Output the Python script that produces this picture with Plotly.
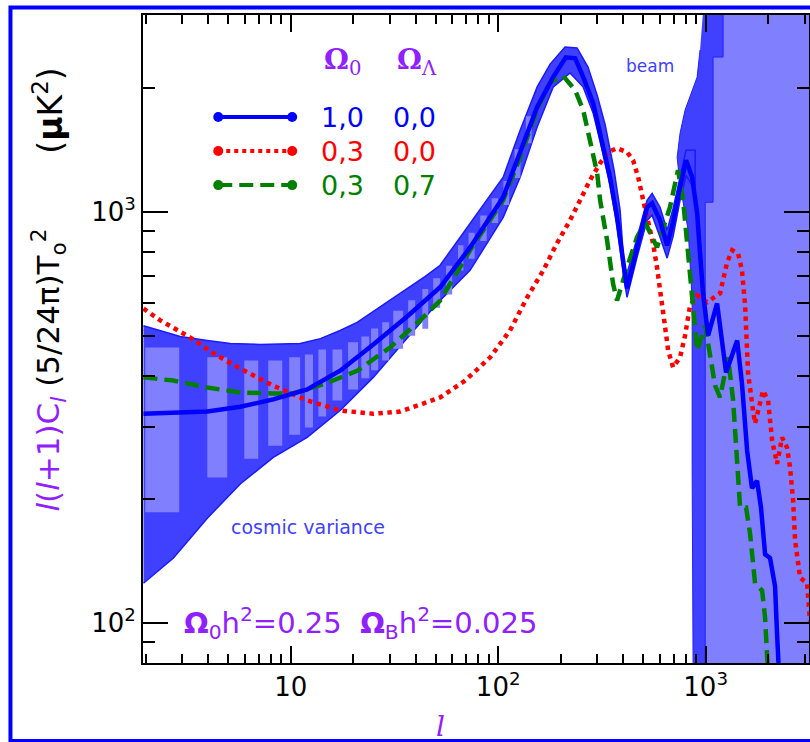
import plotly.graph_objects as go
import math

# ---------------- data ----------------
blue_l = [1.95, 2.775, 3.96, 5.71, 8.24, 12.0, 17.3, 25.0, 36.4, 52.5, 73.2, 105.7, 127.6, 154, 184, 212, 235, 257,
          287, 310, 346, 374, 400, 418, 467, 522, 552, 603, 652, 697, 753, 805, 861, 910, 940, 972, 1028, 1136,
          1255, 1419, 1497, 1585, 1673, 1770, 1849, 1935, 2044, 2161, 2210, 2259]
blue_v = [323, 325, 327, 336, 350, 370, 411, 476, 557, 656, 820, 1086, 1390, 1799, 2128, 2378, 2365, 2128,
          1838, 1555, 1215, 970, 749, 652, 820, 1027, 1050, 954, 829, 944, 1149, 1336, 1215, 993, 793, 634, 501, 599,
          407, 487, 382, 263, 213, 222, 191, 147, 144, 123, 94, 75]

red_l = [1.95, 2.35, 3.28, 4.33, 5.71, 8.24, 12.0, 17.3, 25.0, 33.7, 43.5, 52.5, 69.3, 91.5, 114, 138, 165, 192,
         222, 248, 277, 310, 339, 374, 418, 447, 473, 500, 528, 558, 583, 603, 638, 660, 697, 753, 796, 842, 910,
         1016, 1174, 1269, 1342, 1434, 1497, 1550, 1585, 1602, 1693, 1731, 1892, 2000, 2092, 2210, 2336, 2470,
         2553, 2640, 2699, 2853, 3084, 3184]
red_v = [582, 545, 495, 450, 416, 378, 348, 329, 323, 327, 342, 354, 389, 443, 515, 620, 721, 839,
         954, 1068, 1194, 1314, 1398, 1429, 1398, 1336, 1215, 1068, 954, 839, 733, 634, 524, 460, 419, 443, 501, 593,
         627, 603, 634, 754, 807, 793, 721, 593, 487, 405, 329, 306, 368, 348, 278, 244, 283, 267,
         239, 199, 159, 129, 125, 101]

green_l = [1.95, 2.715, 3.96, 5.71, 8.24, 10.3, 15.0, 20.9, 30.1, 43.5, 52.5, 73.2, 105.7, 127.6, 154, 178, 206,
           235, 257, 277, 300, 310, 335, 358, 374, 418, 467, 511, 583, 673, 736, 779, 814, 842, 871, 910, 995,
           1111, 1174, 1283, 1357, 1419, 1466, 1567, 1638, 1731, 1872, 1935, 2000]
green_v = [396, 389, 374, 364, 362, 362, 384, 411, 468, 554, 609, 807, 1068, 1359, 1769, 2068, 2140,
           1978, 1769, 1494, 1243, 1068, 853, 669, 609, 733, 868, 944, 820, 1027, 1264, 1068, 829, 682, 560, 460, 529,
           378, 354, 443, 348, 239, 191, 191, 165, 125, 120, 103, 75]

# cosmic-variance band edges
band_up_l = [1.95, 2.35, 2.93, 3.96, 5.11, 7.13, 11.1, 13.9, 17.3, 20.9, 25.0, 30.1, 36.4, 44.5, 52.5, 73.2, 105.7,
             127.6, 154, 178, 210, 240, 271, 300, 328, 362, 387, 409, 467, 522, 552, 603, 652, 697, 753, 805, 890]
band_up_v = [529, 515, 498, 487, 479, 476, 479, 492, 515, 539, 573, 609, 652, 697, 742, 939, 1215,
             1581, 2012, 2289, 2518, 2504, 2251, 1924, 1627, 1264, 1010, 682, 863, 1068, 1110, 1027, 903, 1021, 1228,
             1413, 1413]
band_lo_l = [1.95, 2.72, 3.96, 5.71, 8.24, 12.0, 17.3, 25.0, 35.6, 50.8, 73.2, 105.7, 127.6, 154, 184, 222, 257,
             287, 310, 346, 374, 400, 418, 467, 522, 552, 603, 652, 697, 753, 805, 890]
band_lo_v = [125, 144, 180, 218, 253, 283, 329, 396, 487, 599, 721, 970, 1215, 1608, 2012, 2177, 2012,
             1739, 1486, 1161, 928, 713, 620, 776, 954, 982, 868, 772, 873, 1068, 1228, 1130]

# binned boxes inside the band
box_l_lo = [1.99, 3.96, 5.97, 7.79, 9.83, 11.7, 13.6, 15.9, 18.9, 21.9, 24.4, 27.6, 31.2, 36.8, 43.1, 48.6, 56.1,
            64, 72, 82, 93, 106, 120, 136]
box_l_hi = [2.90, 4.94, 6.97, 9.10, 11.1, 12.8, 14.8, 17.7, 21.1, 23.9, 26.4, 29.8, 34.8, 39.8, 46.0, 52.5, 60.0,
            68, 77, 88, 100, 113, 128, 145]
box_v_lo = [186, 226, 251, 270, 287, 299, 318, 348, 370, 394, 412, 435, 465, 500, 520, 585, 630,
            720, 770, 850, 940, 1040, 1210, 1470]
box_v_hi = [468, 443, 435, 435, 443, 450, 463, 463, 482, 498, 521, 539, 575, 610, 650, 690, 740,
            830, 890, 980, 1080, 1190, 1420, 1710]

# beam region
beam_dark_l = [973, 1214, 1214, 1086, 1086, 995, 995, 871, 861, 861, 824, 753, 729, 753, 796, 842, 910, 940]
beam_dark_v = [3100, 3100, 2381, 2381, 1056, 1056, 70, 70, 239, 610, 903, 1161, 1359, 1555, 1769, 1903, 2128, 2476]
beam_light_l = [985, 4000, 4000, 985]
beam_light_v = [3100, 3100, 70, 70]

x_tickvals = [10, 100, 1000]
x_ticktext = ["10", "10<sup>2</sup>", "10<sup>3</sup>"]
x_minor = [2, 3, 4, 5, 6, 7, 8, 9, 20, 30, 40, 50, 60, 70, 80, 90, 200, 300, 400, 500, 600, 700, 800, 900, 2000, 3000]
y_tickvals = [100, 1000]
y_ticktext = ["10<sup>2</sup>", "10<sup>3</sup>"]
y_minor = [80, 90, 200, 300, 400, 500, 600, 700, 800, 900, 2000, 3000]

legend_models = [("1,0", "0,0", "#0000ff", "solid"),
                 ("0,3", "0,0", "#ff0000", "dot"),
                 ("0,3", "0,7", "#008000", "14px,7px")]

# ---------------- figure ----------------
DARK = "#4040ff"
LIGHT = "#8080ff"
PURPLE = "#9020ff"
FONT = "DejaVu Sans"

fig = go.Figure()

fig.add_trace(go.Scatter(x=beam_light_l, y=beam_light_v, fill="toself", fillcolor=LIGHT,
                         line=dict(width=0), mode="lines", hoverinfo="skip"))
fig.add_trace(go.Scatter(x=beam_dark_l, y=beam_dark_v, fill="toself", fillcolor=DARK,
                         line=dict(width=1, color="#2020ff"), mode="lines", hoverinfo="skip"))

fig.add_trace(go.Scatter(x=band_up_l + band_lo_l[::-1], y=band_up_v + band_lo_v[::-1], fill="toself",
                         fillcolor=DARK, line=dict(width=1.5, color="#1a1aff"), mode="lines", hoverinfo="skip"))

bx, by = [], []
for a, b, c, d in zip(box_l_lo, box_l_hi, box_v_lo, box_v_hi):
    bx += [a, b, b, a, a, None]
    by += [c, c, d, d, c, None]
fig.add_trace(go.Scatter(x=bx, y=by, fill="toself", fillcolor=LIGHT, line=dict(width=0),
                         mode="lines", hoverinfo="skip"))

fig.add_trace(go.Scatter(x=red_l, y=red_v, mode="lines", line=dict(color="#ff0000", width=4.5, dash="dot")))
fig.add_trace(go.Scatter(x=green_l, y=green_v, mode="lines",
                         line=dict(color="#008000", width=4.5, dash="14px,7px")))
fig.add_trace(go.Scatter(x=blue_l, y=blue_v, mode="lines", line=dict(color="#0000ff", width=4.5)))

# legend samples on an overlay axis (0..1 == plot area)
rows_y = [0.8425, 0.790, 0.7375]
for (a, b, col, dash), yy in zip(legend_models, rows_y):
    fig.add_trace(go.Scatter(x=[0.113, 0.224], y=[yy, yy], xaxis="x2", yaxis="y2", mode="lines+markers",
                             line=dict(color=col, width=4, dash=dash),
                             marker=dict(color=col, size=10, symbol="circle"), hoverinfo="skip"))

annotations = []
for (a, b, col, dash), yy in zip(legend_models, rows_y):
    annotations.append(dict(x=0.300, y=yy, text=a, font=dict(color=col, size=27, family=FONT)))
    annotations.append(dict(x=0.408, y=yy, text=b, font=dict(color=col, size=27, family=FONT)))
annotations.append(dict(x=0.300, y=0.928, text="<b>Ω</b><sub>0</sub>", font=dict(color=PURPLE, size=28, family="DejaVu Serif")))
annotations.append(dict(x=0.411, y=0.928, text="<b>Ω</b><sub>Λ</sub>", font=dict(color=PURPLE, size=28, family="DejaVu Serif")))
annotations.append(dict(x=0.761, y=0.922, text="beam", font=dict(color=DARK, size=17, family=FONT)))
annotations.append(dict(x=0.247, y=0.210, text="cosmic variance", font=dict(color=DARK, size=19, family=FONT)))
annotations.append(dict(x=0.327, y=0.061,
                        text="<b>Ω</b><sub>0</sub>h<sup>2</sup>=0.25  <b>Ω</b><sub>B</sub>h<sup>2</sup>=0.025",
                        font=dict(color=PURPLE, size=29, family=FONT)))
annotations.append(dict(x=0.446, y=-0.098, text="<i>l</i>", font=dict(color=PURPLE, size=28, family="DejaVu Serif")))
annotations.append(dict(x=-0.142, y=0.452, textangle=-90,
                        text='<span style="color:%s"><i>l</i>(<i>l</i>+1)C<sub><i>l</i></sub></span> '
                             '(5/24π)T<sub>o</sub><sup>2</sup>' % PURPLE,
                        font=dict(color="black", size=31, family=FONT)))
annotations.append(dict(x=-0.142, y=0.853, textangle=-90, text='(<b>μ</b>K<sup>2</sup>)',
                        font=dict(color="black", size=33, family=FONT)))
for an in annotations:
    an.update(xref="paper", yref="paper", showarrow=False, xanchor="center", yanchor="middle")

axis_common = dict(type="log", showgrid=False, zeroline=False, showline=True, linecolor="black", linewidth=2,
                   mirror="allticks", ticks="inside", tickwidth=2, tickcolor="black",
                   tickfont=dict(size=26, family=FONT, color="black"))

fig.update_layout(
    width=810, height=742,
    margin=dict(l=143, r=1, t=15, b=79, autoexpand=False),
    paper_bgcolor="white", plot_bgcolor="white",
    showlegend=False,
    xaxis=dict(axis_common, range=[math.log10(1.94), math.log10(3150)], tickmode="array",
               tickvals=x_tickvals, ticktext=x_ticktext, ticklen=17,
               minor=dict(tickmode="array", tickvals=x_minor, ticks="inside", ticklen=9, tickwidth=2,
                          tickcolor="black", showgrid=False)),
    yaxis=dict(axis_common, range=[math.log10(80), math.log10(3013)], tickmode="array",
               tickvals=y_tickvals, ticktext=y_ticktext, ticklen=25,
               minor=dict(tickmode="array", tickvals=y_minor, ticks="inside", ticklen=12, tickwidth=2,
                          tickcolor="black", showgrid=False)),
    xaxis2=dict(overlaying="x", anchor="y2", range=[0, 1], visible=False),
    yaxis2=dict(overlaying="y", anchor="x2", range=[0, 1], visible=False),
    annotations=annotations,
    shapes=[dict(type="rect", xref="paper", yref="paper", x0=-0.199, x1=1.04, y0=-0.1205, y1=1.0116,
                 line=dict(color="#0000ff", width=4), fillcolor="rgba(0,0,0,0)", layer="above")],
)

fig.write_html("out.html", config={"displayModeBar": False},
               post_script="document.body.style.margin='0px';document.body.style.overflow='hidden';")
